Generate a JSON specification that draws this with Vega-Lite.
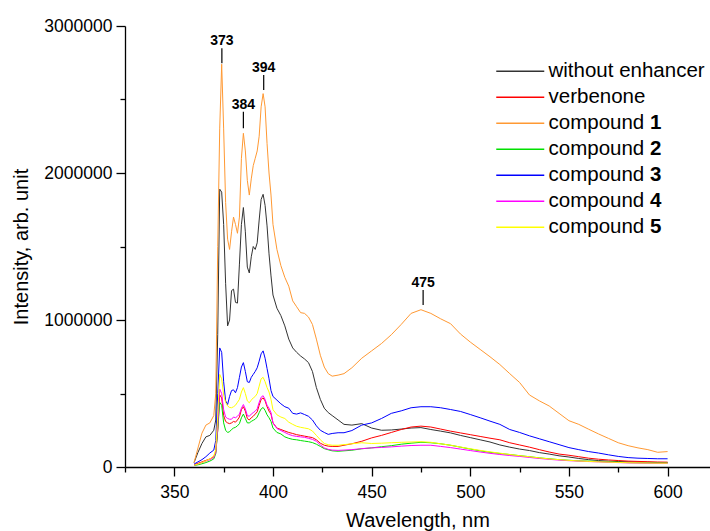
{
  "$schema": "https://vega.github.io/schema/vega-lite/v6.json",
  "width": 585,
  "height": 441,
  "autosize": {"type": "none"},
  "padding": {"left": 125, "top": 26, "right": 0, "bottom": 64},
  "background": "white",
  "config": {
    "view": {"stroke": null},
    "font": "Liberation Sans",
    "axis": {"grid": false, "domainColor": "black", "tickColor": "black", "labelColor": "black", "titleColor": "black", "domainWidth": 1.3, "tickWidth": 1.3, "labelFont": "Liberation Sans", "titleFont": "Liberation Sans", "titleFontWeight": "normal"}
  },
  "datasets": {
    "spectra": [
      {"x":360,"without enhancer":30000,"verbenone":15000,"compound 1":30000,"compound 2":10000,"compound 3":20000,"compound 4":12000,"compound 5":12000},
      {"x":362,"without enhancer":100000,"verbenone":25000,"compound 1":130000,"compound 2":15000,"compound 3":35000,"compound 4":20000,"compound 5":20000},
      {"x":364,"without enhancer":160000,"verbenone":35000,"compound 1":230000,"compound 2":22000,"compound 3":50000,"compound 4":30000,"compound 5":30000},
      {"x":366,"without enhancer":205000,"verbenone":45000,"compound 1":285000,"compound 2":30000,"compound 3":70000,"compound 4":40000,"compound 5":42000},
      {"x":368,"without enhancer":215000,"verbenone":55000,"compound 1":300000,"compound 2":40000,"compound 3":95000,"compound 4":50000,"compound 5":55000},
      {"x":370,"without enhancer":250000,"verbenone":70000,"compound 1":350000,"compound 2":55000,"compound 3":115000,"compound 4":65000,"compound 5":75000},
      {"x":371,"without enhancer":320000,"verbenone":100000,"compound 1":500000,"compound 2":90000,"compound 3":180000,"compound 4":100000,"compound 5":120000},
      {"x":372,"without enhancer":900000,"verbenone":250000,"compound 1":1500000,"compound 2":250000,"compound 3":500000,"compound 4":280000,"compound 5":350000},
      {"x":373,"without enhancer":1890000,"verbenone":490000,"compound 1":2300000,"compound 2":440000,"compound 3":810000,"compound 4":530000,"compound 5":630000},
      {"x":374,"without enhancer":1870000,"verbenone":470000,"compound 1":2740000,"compound 2":420000,"compound 3":780000,"compound 4":500000,"compound 5":600000},
      {"x":375,"without enhancer":1650000,"verbenone":350000,"compound 1":2300000,"compound 2":300000,"compound 3":580000,"compound 4":390000,"compound 5":490000},
      {"x":376,"without enhancer":1250000,"verbenone":310000,"compound 1":1800000,"compound 2":250000,"compound 3":450000,"compound 4":340000,"compound 5":440000},
      {"x":377,"without enhancer":960000,"verbenone":300000,"compound 1":1550000,"compound 2":235000,"compound 3":425000,"compound 4":330000,"compound 5":415000},
      {"x":378,"without enhancer":1000000,"verbenone":295000,"compound 1":1480000,"compound 2":240000,"compound 3":480000,"compound 4":325000,"compound 5":405000},
      {"x":379,"without enhancer":1200000,"verbenone":300000,"compound 1":1600000,"compound 2":255000,"compound 3":520000,"compound 4":325000,"compound 5":403000},
      {"x":380,"without enhancer":1210000,"verbenone":310000,"compound 1":1700000,"compound 2":265000,"compound 3":525000,"compound 4":340000,"compound 5":410000},
      {"x":381,"without enhancer":1120000,"verbenone":305000,"compound 1":1650000,"compound 2":270000,"compound 3":505000,"compound 4":335000,"compound 5":420000},
      {"x":382,"without enhancer":1115000,"verbenone":320000,"compound 1":1590000,"compound 2":280000,"compound 3":540000,"compound 4":345000,"compound 5":440000},
      {"x":383,"without enhancer":1380000,"verbenone":340000,"compound 1":1700000,"compound 2":295000,"compound 3":610000,"compound 4":360000,"compound 5":460000},
      {"x":384,"without enhancer":1650000,"verbenone":390000,"compound 1":2100000,"compound 2":335000,"compound 3":680000,"compound 4":400000,"compound 5":510000},
      {"x":385,"without enhancer":1765000,"verbenone":410000,"compound 1":2270000,"compound 2":360000,"compound 3":710000,"compound 4":425000,"compound 5":540000},
      {"x":386,"without enhancer":1600000,"verbenone":380000,"compound 1":2150000,"compound 2":330000,"compound 3":650000,"compound 4":395000,"compound 5":500000},
      {"x":387,"without enhancer":1360000,"verbenone":330000,"compound 1":1950000,"compound 2":300000,"compound 3":580000,"compound 4":350000,"compound 5":450000},
      {"x":388,"without enhancer":1320000,"verbenone":320000,"compound 1":1850000,"compound 2":300000,"compound 3":575000,"compound 4":345000,"compound 5":437000},
      {"x":389,"without enhancer":1430000,"verbenone":335000,"compound 1":1960000,"compound 2":310000,"compound 3":610000,"compound 4":360000,"compound 5":455000},
      {"x":390,"without enhancer":1500000,"verbenone":345000,"compound 1":2050000,"compound 2":318000,"compound 3":630000,"compound 4":370000,"compound 5":470000},
      {"x":391,"without enhancer":1480000,"verbenone":360000,"compound 1":2100000,"compound 2":325000,"compound 3":650000,"compound 4":380000,"compound 5":480000},
      {"x":392,"without enhancer":1525000,"verbenone":375000,"compound 1":2150000,"compound 2":340000,"compound 3":675000,"compound 4":395000,"compound 5":500000},
      {"x":393,"without enhancer":1680000,"verbenone":420000,"compound 1":2250000,"compound 2":370000,"compound 3":720000,"compound 4":440000,"compound 5":550000},
      {"x":394,"without enhancer":1820000,"verbenone":460000,"compound 1":2450000,"compound 2":395000,"compound 3":770000,"compound 4":475000,"compound 5":600000},
      {"x":395,"without enhancer":1855000,"verbenone":470000,"compound 1":2540000,"compound 2":405000,"compound 3":790000,"compound 4":485000,"compound 5":610000},
      {"x":396,"without enhancer":1780000,"verbenone":450000,"compound 1":2450000,"compound 2":385000,"compound 3":740000,"compound 4":460000,"compound 5":580000},
      {"x":397,"without enhancer":1640000,"verbenone":410000,"compound 1":2200000,"compound 2":355000,"compound 3":670000,"compound 4":420000,"compound 5":540000},
      {"x":398,"without enhancer":1450000,"verbenone":380000,"compound 1":2000000,"compound 2":335000,"compound 3":600000,"compound 4":400000,"compound 5":510000},
      {"x":399,"without enhancer":1300000,"verbenone":360000,"compound 1":1850000,"compound 2":310000,"compound 3":520000,"compound 4":370000,"compound 5":460000},
      {"x":400,"without enhancer":1170000,"verbenone":300000,"compound 1":1650000,"compound 2":265000,"compound 3":480000,"compound 4":300000,"compound 5":390000},
      {"x":402,"without enhancer":1080000,"verbenone":265000,"compound 1":1480000,"compound 2":235000,"compound 3":455000,"compound 4":262000,"compound 5":355000},
      {"x":404,"without enhancer":1030000,"verbenone":255000,"compound 1":1370000,"compound 2":225000,"compound 3":430000,"compound 4":248000,"compound 5":340000},
      {"x":406,"without enhancer":960000,"verbenone":245000,"compound 1":1290000,"compound 2":205000,"compound 3":410000,"compound 4":235000,"compound 5":330000},
      {"x":408,"without enhancer":870000,"verbenone":235000,"compound 1":1230000,"compound 2":195000,"compound 3":400000,"compound 4":222000,"compound 5":305000},
      {"x":410,"without enhancer":810000,"verbenone":228000,"compound 1":1130000,"compound 2":188000,"compound 3":365000,"compound 4":213000,"compound 5":290000},
      {"x":412,"without enhancer":780000,"verbenone":220000,"compound 1":1090000,"compound 2":185000,"compound 3":360000,"compound 4":208000,"compound 5":277000},
      {"x":414,"without enhancer":755000,"verbenone":215000,"compound 1":1050000,"compound 2":180000,"compound 3":368000,"compound 4":205000,"compound 5":270000},
      {"x":416,"without enhancer":735000,"verbenone":210000,"compound 1":1045000,"compound 2":176000,"compound 3":357000,"compound 4":202000,"compound 5":265000},
      {"x":418,"without enhancer":710000,"verbenone":205000,"compound 1":1020000,"compound 2":172000,"compound 3":345000,"compound 4":195000,"compound 5":260000},
      {"x":420,"without enhancer":650000,"verbenone":200000,"compound 1":970000,"compound 2":166000,"compound 3":320000,"compound 4":188000,"compound 5":245000},
      {"x":422,"without enhancer":540000,"verbenone":185000,"compound 1":870000,"compound 2":155000,"compound 3":280000,"compound 4":175000,"compound 5":215000},
      {"x":424,"without enhancer":460000,"verbenone":162000,"compound 1":760000,"compound 2":140000,"compound 3":250000,"compound 4":150000,"compound 5":185000},
      {"x":426,"without enhancer":400000,"verbenone":148000,"compound 1":680000,"compound 2":125000,"compound 3":235000,"compound 4":130000,"compound 5":160000},
      {"x":428,"without enhancer":370000,"verbenone":142000,"compound 1":635000,"compound 2":117000,"compound 3":222000,"compound 4":120000,"compound 5":152000},
      {"x":430,"without enhancer":350000,"verbenone":140000,"compound 1":618000,"compound 2":110000,"compound 3":228000,"compound 4":115000,"compound 5":148000},
      {"x":433,"without enhancer":320000,"verbenone":140000,"compound 1":625000,"compound 2":107000,"compound 3":233000,"compound 4":113000,"compound 5":148000},
      {"x":436,"without enhancer":290000,"verbenone":148000,"compound 1":635000,"compound 2":110000,"compound 3":233000,"compound 4":115000,"compound 5":152000},
      {"x":440,"without enhancer":285000,"verbenone":158000,"compound 1":675000,"compound 2":114000,"compound 3":248000,"compound 4":118000,"compound 5":158000},
      {"x":445,"without enhancer":295000,"verbenone":175000,"compound 1":740000,"compound 2":124000,"compound 3":285000,"compound 4":125000,"compound 5":165000},
      {"x":450,"without enhancer":265000,"verbenone":198000,"compound 1":790000,"compound 2":130000,"compound 3":300000,"compound 4":130000,"compound 5":160000},
      {"x":455,"without enhancer":250000,"verbenone":215000,"compound 1":840000,"compound 2":138000,"compound 3":330000,"compound 4":133000,"compound 5":162000},
      {"x":460,"without enhancer":252000,"verbenone":235000,"compound 1":900000,"compound 2":145000,"compound 3":365000,"compound 4":137000,"compound 5":165000},
      {"x":465,"without enhancer":258000,"verbenone":255000,"compound 1":970000,"compound 2":155000,"compound 3":382000,"compound 4":142000,"compound 5":168000},
      {"x":470,"without enhancer":265000,"verbenone":272000,"compound 1":1045000,"compound 2":162000,"compound 3":403000,"compound 4":146000,"compound 5":170000},
      {"x":475,"without enhancer":268000,"verbenone":278000,"compound 1":1070000,"compound 2":168000,"compound 3":410000,"compound 4":148000,"compound 5":172000},
      {"x":480,"without enhancer":255000,"verbenone":272000,"compound 1":1045000,"compound 2":165000,"compound 3":410000,"compound 4":148000,"compound 5":168000},
      {"x":485,"without enhancer":244000,"verbenone":258000,"compound 1":1008000,"compound 2":158000,"compound 3":403000,"compound 4":140000,"compound 5":158000},
      {"x":490,"without enhancer":232000,"verbenone":244000,"compound 1":975000,"compound 2":148000,"compound 3":391000,"compound 4":132000,"compound 5":148000},
      {"x":495,"without enhancer":215000,"verbenone":232000,"compound 1":905000,"compound 2":135000,"compound 3":378000,"compound 4":122000,"compound 5":136000},
      {"x":500,"without enhancer":200000,"verbenone":220000,"compound 1":850000,"compound 2":122000,"compound 3":357000,"compound 4":112000,"compound 5":124000},
      {"x":505,"without enhancer":185000,"verbenone":208000,"compound 1":800000,"compound 2":110000,"compound 3":335000,"compound 4":102000,"compound 5":113000},
      {"x":510,"without enhancer":170000,"verbenone":196000,"compound 1":750000,"compound 2":100000,"compound 3":312000,"compound 4":93000,"compound 5":103000},
      {"x":515,"without enhancer":150000,"verbenone":185000,"compound 1":697000,"compound 2":92000,"compound 3":290000,"compound 4":85000,"compound 5":94000},
      {"x":520,"without enhancer":135000,"verbenone":165000,"compound 1":635000,"compound 2":85000,"compound 3":255000,"compound 4":78000,"compound 5":85000},
      {"x":525,"without enhancer":122000,"verbenone":150000,"compound 1":575000,"compound 2":77000,"compound 3":235000,"compound 4":72000,"compound 5":77000},
      {"x":530,"without enhancer":112000,"verbenone":135000,"compound 1":490000,"compound 2":70000,"compound 3":212000,"compound 4":65000,"compound 5":70000},
      {"x":535,"without enhancer":98000,"verbenone":118000,"compound 1":450000,"compound 2":62000,"compound 3":192000,"compound 4":58000,"compound 5":62000},
      {"x":540,"without enhancer":88000,"verbenone":102000,"compound 1":415000,"compound 2":56000,"compound 3":172000,"compound 4":52000,"compound 5":55000},
      {"x":545,"without enhancer":76000,"verbenone":88000,"compound 1":365000,"compound 2":50000,"compound 3":152000,"compound 4":47000,"compound 5":50000},
      {"x":550,"without enhancer":68000,"verbenone":80000,"compound 1":315000,"compound 2":46000,"compound 3":132000,"compound 4":43000,"compound 5":45000},
      {"x":555,"without enhancer":58000,"verbenone":70000,"compound 1":290000,"compound 2":42000,"compound 3":118000,"compound 4":40000,"compound 5":41000},
      {"x":560,"without enhancer":50000,"verbenone":60000,"compound 1":257000,"compound 2":40000,"compound 3":105000,"compound 4":37000,"compound 5":38000},
      {"x":565,"without enhancer":44000,"verbenone":53000,"compound 1":225000,"compound 2":38000,"compound 3":95000,"compound 4":35000,"compound 5":35000},
      {"x":570,"without enhancer":40000,"verbenone":48000,"compound 1":195000,"compound 2":35000,"compound 3":83000,"compound 4":32000,"compound 5":33000},
      {"x":575,"without enhancer":37000,"verbenone":44000,"compound 1":165000,"compound 2":32000,"compound 3":72000,"compound 4":30000,"compound 5":31000},
      {"x":580,"without enhancer":35000,"verbenone":40000,"compound 1":145000,"compound 2":30000,"compound 3":64000,"compound 4":28000,"compound 5":29000},
      {"x":585,"without enhancer":33000,"verbenone":38000,"compound 1":130000,"compound 2":29000,"compound 3":60000,"compound 4":27000,"compound 5":28000},
      {"x":590,"without enhancer":32000,"verbenone":36000,"compound 1":118000,"compound 2":28000,"compound 3":58000,"compound 4":26000,"compound 5":27000},
      {"x":595,"without enhancer":30000,"verbenone":34000,"compound 1":100000,"compound 2":27000,"compound 3":56000,"compound 4":25000,"compound 5":26000},
      {"x":600,"without enhancer":30000,"verbenone":33000,"compound 1":105000,"compound 2":27000,"compound 3":56000,"compound 4":25000,"compound 5":26000}
    ],
    "peaks": [
      {"label": "373", "x": 374.1, "y0": 2746000, "y1": 2848000},
      {"label": "384", "x": 385.0, "y0": 2304000, "y1": 2417000},
      {"label": "394", "x": 395.3, "y0": 2565000, "y1": 2667000},
      {"label": "475", "x": 476.1, "y0": 1102000, "y1": 1204000}
    ]
  },
  "layer": [
    {
      "data": {"name": "spectra"},
      "transform": [
        {"fold": ["without enhancer", "verbenone", "compound 1", "compound 2", "compound 3", "compound 4", "compound 5"], "as": ["series", "value"]}
      ],
      "mark": {"type": "line", "strokeWidth": 1, "interpolate": "linear"},
      "encoding": {
        "x": {
          "field": "x", "type": "quantitative",
          "scale": {"domain": [325, 621.5], "nice": false, "zero": false},
          "axis": {
            "values": [325, 350, 375, 400, 425, 450, 475, 500, 525, 550, 575, 600],
            "labelExpr": "datum.value % 50 === 0 ? datum.label : ''",
            "format": "d",
            "tickSize": {"condition": {"test": "datum.value % 50 === 0", "value": 9}, "value": 5},
            "labelFontSize": 17.5, "labelPadding": 7,
            "title": "Wavelength, nm", "titleFontSize": 20, "titlePadding": 10
          }
        },
        "y": {
          "field": "value", "type": "quantitative",
          "scale": {"domain": [0, 3000000], "nice": false},
          "axis": {
            "values": [0, 500000, 1000000, 1500000, 2000000, 2500000, 3000000],
            "labelExpr": "datum.value % 1000000 === 0 ? datum.label : ''",
            "format": "d",
            "tickSize": {"condition": {"test": "datum.value % 1000000 === 0", "value": 9}, "value": 5},
            "labelFontSize": 17.5, "labelPadding": 4,
            "title": "Intensity, arb. unit", "titleFontSize": 20, "titlePadding": 12
          }
        },
        "color": {
          "field": "series", "type": "nominal",
          "scale": {
            "domain": ["without enhancer", "verbenone", "compound 1", "compound 2", "compound 3", "compound 4", "compound 5"],
            "range": ["#333333", "#ff0000", "#ff9933", "#00e000", "#0000ff", "#ff00ff", "#ffff00"]
          },
          "legend": {
            "orient": "none", "legendX": 385, "legendY": 35,
            "title": null, "symbolType": "M-3,0H3", "symbolSize": 256, "symbolStrokeWidth": 1.4,
            "labelFontSize": 20.5, "labelFont": "Liberation Sans", "labelColor": "black", "labelOffset": 18,
            "labelExpr": "datum.label == 'without enhancer' || datum.label == 'verbenone' ? datum.label : 'compound'",
            "rowPadding": 5, "labelLimit": 300
          }
        }
      }
    },
    {
      "data": {"name": "spectra"},
      "transform": [
        {"filter": "datum.x < 0"},
        {"fold": ["without enhancer", "verbenone", "compound 1", "compound 2", "compound 3", "compound 4", "compound 5"], "as": ["series", "value"]}
      ],
      "mark": {"type": "point", "opacity": 0},
      "encoding": {
        "x": {"field": "x", "type": "quantitative"},
        "y": {"field": "value", "type": "quantitative"},
        "shape": {
          "field": "series", "type": "nominal",
          "scale": {
            "domain": ["w", "v", "1", "2", "3", "4", "5"],
            "range": ["M-3,0H3", "M-3,0H3", "M-3,0H3", "M-3,0H3", "M-3,0H3", "M-3,0H3", "M-3,0H3"]
          },
          "legend": {
            "orient": "none", "legendX": 486.5, "legendY": 35,
            "title": null, "symbolSize": 256, "symbolStrokeWidth": 1.4, "symbolOpacity": 0,
            "labelFontSize": 20.5, "labelFont": "Liberation Sans", "labelFontWeight": "bold", "labelColor": "black", "labelOffset": 18,
            "labelExpr": "datum.label == 'w' || datum.label == 'v' ? '' : datum.label",
            "rowPadding": 5, "labelLimit": 300
          }
        }
      }
    },
    {
      "data": {"name": "peaks"},
      "mark": {"type": "rule", "color": "black", "strokeWidth": 1.2},
      "encoding": {
        "x": {"field": "x", "type": "quantitative"},
        "y": {"field": "y0", "type": "quantitative"},
        "y2": {"field": "y1"}
      }
    },
    {
      "data": {"name": "peaks"},
      "mark": {"type": "text", "baseline": "alphabetic", "dy": -3, "fontWeight": "bold", "fontSize": 14, "font": "Liberation Sans", "color": "black"},
      "encoding": {
        "x": {"field": "x", "type": "quantitative"},
        "y": {"field": "y1", "type": "quantitative"},
        "text": {"field": "label"}
      }
    }
  ]
}
